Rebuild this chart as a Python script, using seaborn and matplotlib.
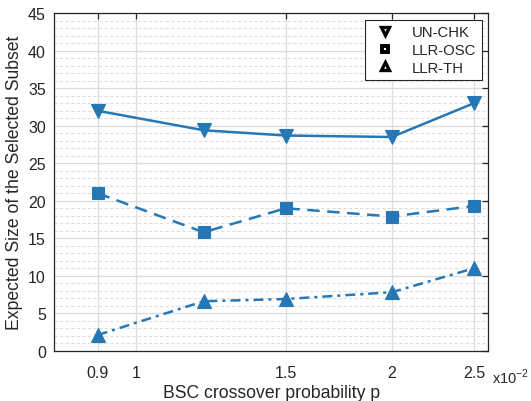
import matplotlib
matplotlib.use("Agg")
import matplotlib.pyplot as plt
from matplotlib.lines import Line2D
from matplotlib.ticker import FixedLocator, FixedFormatter, MultipleLocator, NullLocator
import seaborn as sns
import pandas as pd

# crossover probability, in units of 1e-2
p_values = [0.9, 1.2, 1.5, 2.0, 2.5]
un_chk = [32.0, 29.4, 28.7, 28.5, 33.0]
llr_osc = [21.0, 15.8, 19.0, 17.9, 19.3]
llr_th = [2.1, 6.6, 6.9, 7.8, 11.0]

series_names = ["UN-CHK", "LLR-OSC", "LLR-TH"]
x_ticks = [0.9, 1, 1.5, 2, 2.5]
x_tick_labels = ["0.9", "1", "1.5", "2", "2.5"]

sns.set_style("white")
plt.rcParams["font.family"] = ["Liberation Sans", "DejaVu Sans"]
plt.rcParams["mathtext.fontset"] = "custom"
plt.rcParams["mathtext.rm"] = "Liberation Sans"

blue = "#2677B6"
text_col = "#262626"

fig = plt.figure(figsize=(5.31, 4.02), dpi=100)
ax = fig.add_axes([0.1023, 0.125, 0.8173, 0.8395])

styles = [
    (un_chk, "v", "-", 9.5),
    (llr_osc, "s", (0, (5, 3)), 8.0),
    (llr_th, "^", (0, (4, 2, 1.2, 2)), 9.5),
]
for name, (vals, mk, ls, ms) in zip(series_names, styles):
    df = pd.DataFrame({"p": p_values, "size": vals})
    sns.lineplot(data=df, x="p", y="size", ax=ax, color=blue, linewidth=1.8,
                 linestyle=ls, marker=mk, markersize=ms, markerfacecolor=blue,
                 markeredgecolor=blue, markeredgewidth=0.8, zorder=3)

ax.set_xscale("log")
ax.set_xlim(0.8, 2.6)
ax.set_ylim(0, 45)
ax.xaxis.set_major_locator(FixedLocator(x_ticks))
ax.xaxis.set_major_formatter(FixedFormatter(x_tick_labels))
ax.xaxis.set_minor_locator(NullLocator())
ax.yaxis.set_major_locator(MultipleLocator(5))
ax.yaxis.set_minor_locator(MultipleLocator(1))

ax.grid(which="major", color="#dcdcdc", linewidth=0.9, linestyle="-", zorder=0)
ax.yaxis.grid(which="minor", color="#dedede", linewidth=0.8, linestyle=(0, (3, 2)), zorder=0)
ax.set_axisbelow(True)

for s in ax.spines.values():
    s.set_color("#262626")
    s.set_linewidth(0.9)
ax.tick_params(which="major", direction="in", length=4, width=0.9, top=True, right=True,
               labelsize=11.5, colors="#262626", labelcolor=text_col)
ax.tick_params(axis="x", which="major", pad=10)
ax.tick_params(axis="y", which="major", pad=6)
ax.tick_params(which="minor", length=0)

ax.set_xlabel("BSC crossover probability p", fontsize=12.7, color=text_col, labelpad=3)
ax.set_ylabel("Expected Size of the Selected Subset", fontsize=12.7, color=text_col, labelpad=4)
ax.text(1.008, -0.048, r"x10$^{-2}$", transform=ax.transAxes, ha="left", va="top",
        fontsize=10.5, color=text_col)

legend_markers = [("v", 6.0, 2.4), ("s", 5.0, 2.8), ("^", 6.0, 2.4)]
handles = [Line2D([], [], linestyle="none", marker=m, markersize=ms, markerfacecolor="white",
                  markeredgecolor="black", markeredgewidth=mew)
           for m, ms, mew in legend_markers]
leg = ax.legend(handles, series_names, loc="upper right", fontsize=10.7, frameon=True,
                fancybox=False, edgecolor="#262626", framealpha=1, borderaxespad=0.45,
                handletextpad=0.9, labelspacing=0.25, borderpad=0.35, handlelength=1.9)
leg.get_frame().set_linewidth(0.8)

fig.savefig("out.png", dpi=100)
